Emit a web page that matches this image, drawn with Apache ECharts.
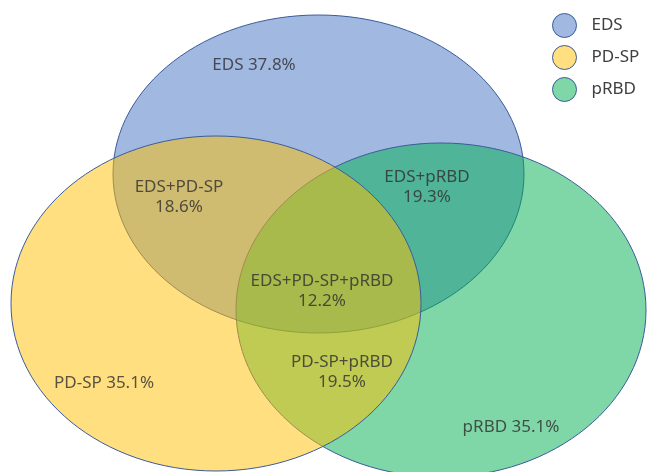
<!DOCTYPE html>
<html>
<head>
<meta charset="utf-8">
<style>html,body{margin:0;padding:0;background:#fff;}#c{width:648px;height:472px;}</style>
<script src="https://cdn.jsdelivr.net/npm/echarts@6/dist/echarts.min.js"></script>
</head>
<body>
<div id="c"></div>
<script>
// Sets (Venn circles), drawn bottom to top
const setNames = ['EDS', 'pRBD', 'PD-SP'];
const setCx = [318.5, 441, 216];
const setCy = [174, 310, 303.5];
const setRx = [205.5, 205, 205];
const setRy = [159, 167, 167.5];
const setColors = ['rgba(68,114,196,0.5)', 'rgba(0,176,80,0.5)', 'rgba(255,192,0,0.5)'];

// Region labels and their shares (%)
const regionNames = ['EDS', 'EDS+PD-SP', 'EDS+pRBD', 'EDS+PD-SP+pRBD', 'PD-SP+pRBD', 'PD-SP', 'pRBD'];
const regionValues = [37.8, 18.6, 19.3, 12.2, 19.5, 35.1, 35.1];
const regionInline = [true, false, false, false, false, true, true];
const regionX = [254, 179, 427, 322, 342, 104, 511];
const regionY = [65, 197, 187, 291, 372, 383, 427];

// Legend order
const legendOrder = ['EDS', 'PD-SP', 'pRBD'];

const chart = echarts.init(document.getElementById('c'), null, {renderer: 'canvas'});

const ellipseSeries = setNames.map((name, i) => ({
  type: 'custom',
  name: name,
  coordinateSystem: 'cartesian2d',
  silent: true,
  z: 2 + i,
  itemStyle: {color: setColors[i]},
  data: [[setCx[i], setCy[i], setRx[i], setRy[i]]],
  renderItem: function (params, api) {
    const c = api.coord([api.value(0), api.value(1)]);
    const s = api.size([api.value(2), api.value(3)]);
    return {
      type: 'ellipse',
      shape: {cx: c[0], cy: c[1], rx: s[0], ry: s[1]},
      style: {fill: setColors[i], stroke: '#3b5c9a', lineWidth: 1}
    };
  }
}));

const labelSeries = {
  type: 'scatter',
  name: 'labels',
  z: 10,
  silent: true,
  symbolSize: 0,
  data: regionNames.map((n, i) => ({
    value: [regionX[i], regionY[i]],
    name: n,
    pct: regionValues[i].toFixed(1) + '%',
    inline: regionInline[i]
  })),
  label: {
    show: true,
    position: 'inside',
    color: '#2e2e2e',
    fontSize: 17,
    lineHeight: 20,
    fontFamily: 'Noto Sans',
    align: 'center',
    formatter: function (p) {
      return p.data.inline ? p.data.name + ' ' + p.data.pct : p.data.name + '\n' + p.data.pct;
    }
  }
};

chart.setOption({
  animation: false,
  backgroundColor: '#fff',
  grid: {left: 0, right: 0, top: 0, bottom: 0},
  xAxis: {type: 'value', min: 0, max: 648, show: false},
  yAxis: {type: 'value', min: 0, max: 472, inverse: true, show: false},
  legend: {
    orient: 'vertical',
    left: 552,
    top: 13,
    padding: 0,
    itemWidth: 24,
    itemHeight: 24,
    itemGap: 7,
    icon: 'circle',
    textStyle: {fontSize: 17, color: '#404040', fontFamily: 'Noto Sans', padding: [0, 0, 0, 10]},
    data: legendOrder.map(n => {
      const i = setNames.indexOf(n);
      return {name: n, itemStyle: {color: setColors[i], borderColor: '#3b5c9a', borderWidth: 1}};
    })
  },
  series: ellipseSeries.concat([labelSeries])
});
</script>
</body>
</html>
